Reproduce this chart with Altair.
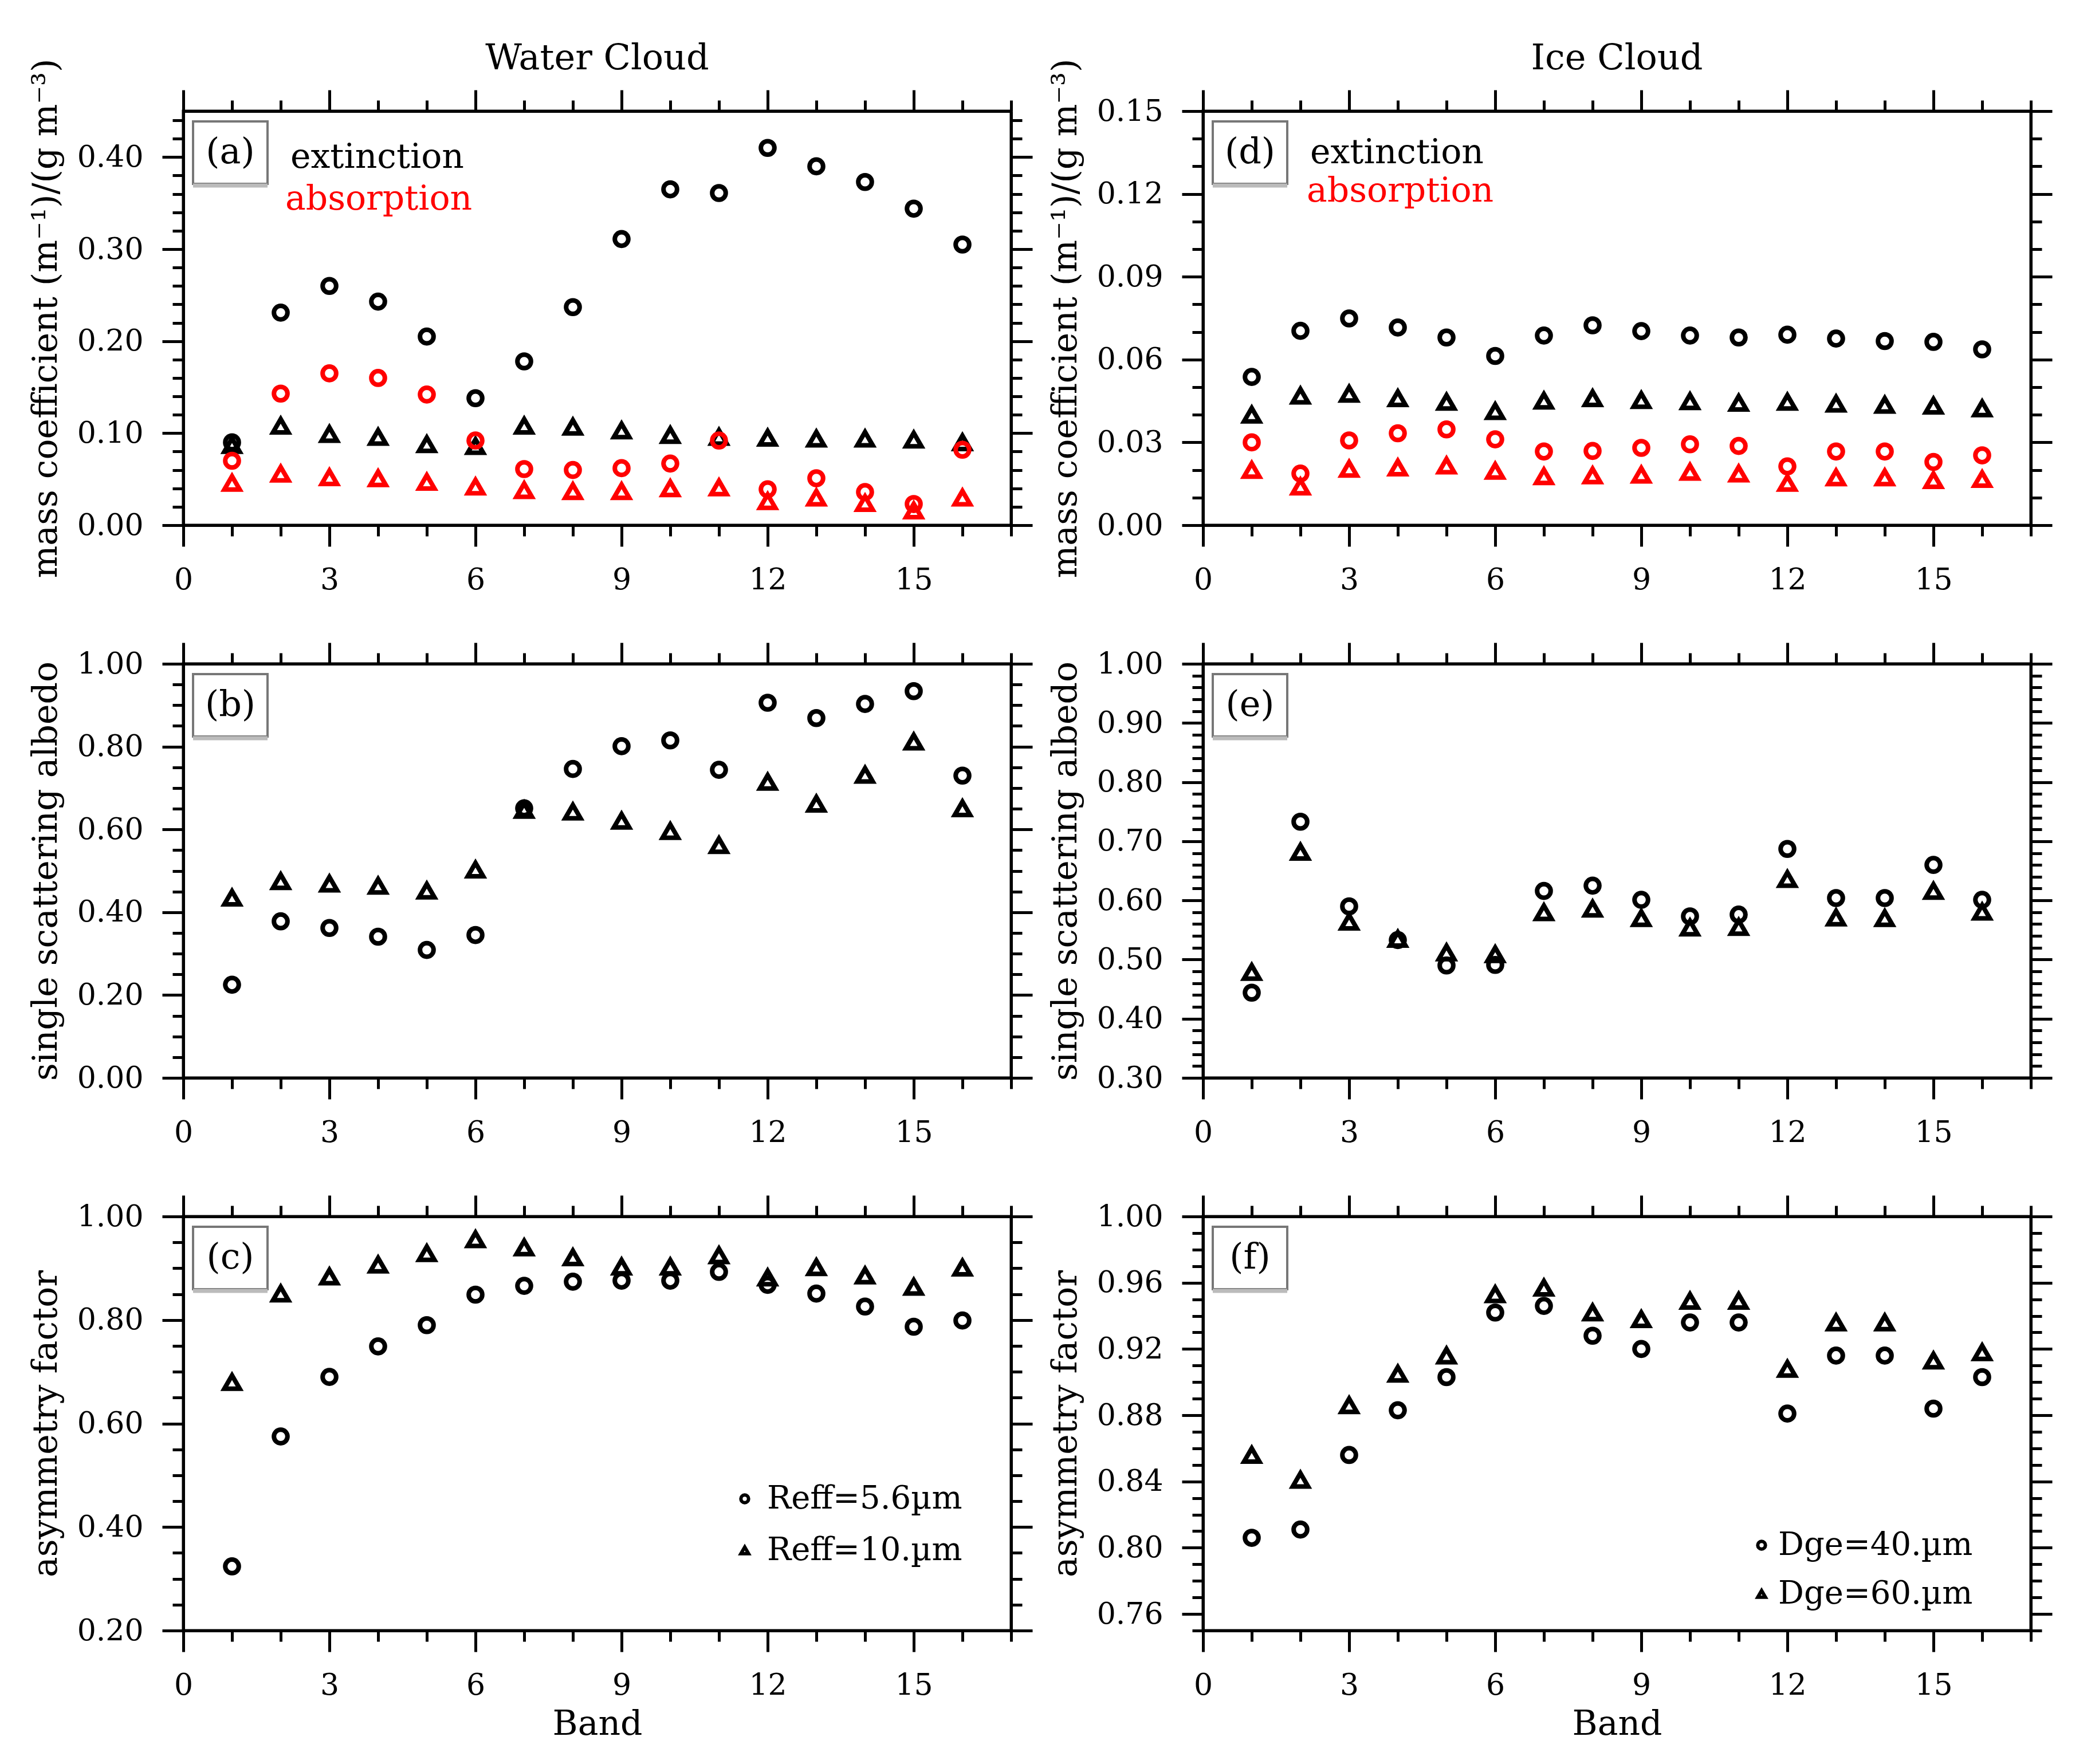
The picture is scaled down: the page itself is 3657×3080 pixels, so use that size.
import altair as alt
import pandas as pd

# ---------------- data ----------------
bands = list(range(1, 17))
x_ticks = list(range(0, 18))

water_sizes = ["Reff=5.6µm", "Reff=10.µm"]
ice_sizes = ["Dge=40.µm", "Dge=60.µm"]
kinds = ["extinction", "absorption"]

# (a) water cloud mass coefficients
wat_ext_r56 = [0.090, 0.231, 0.260, 0.243, 0.205, 0.138, 0.178, 0.237, 0.311, 0.365, 0.361, 0.410, 0.390, 0.373, 0.344, 0.305]
wat_ext_r10 = [0.087, 0.108, 0.099, 0.096, 0.088, 0.086, 0.108, 0.107, 0.103, 0.098, 0.096, 0.095, 0.094, 0.094, 0.093, 0.090]
wat_abs_r56 = [0.070, 0.143, 0.165, 0.160, 0.142, 0.092, 0.061, 0.060, 0.062, 0.067, 0.092, 0.039, 0.051, 0.036, 0.023, 0.082]
wat_abs_r10 = [0.046, 0.056, 0.052, 0.051, 0.047, 0.042, 0.038, 0.037, 0.037, 0.040, 0.041, 0.026, 0.030, 0.024, 0.016, 0.030]

# (d) ice cloud mass coefficients
ice_ext_d40 = [0.0537, 0.0704, 0.0749, 0.0716, 0.0680, 0.0613, 0.0687, 0.0724, 0.0703, 0.0687, 0.0680, 0.0690, 0.0676, 0.0667, 0.0664, 0.0637]
ice_ext_d60 = [0.0400, 0.0469, 0.0476, 0.0460, 0.0447, 0.0413, 0.0451, 0.0460, 0.0453, 0.0449, 0.0443, 0.0447, 0.0440, 0.0436, 0.0433, 0.0423]
ice_abs_d40 = [0.0300, 0.0187, 0.0307, 0.0333, 0.0347, 0.0311, 0.0267, 0.0269, 0.0280, 0.0293, 0.0287, 0.0213, 0.0267, 0.0267, 0.0229, 0.0253]
ice_abs_d60 = [0.0200, 0.0140, 0.0204, 0.0209, 0.0216, 0.0197, 0.0177, 0.0180, 0.0183, 0.0193, 0.0187, 0.0153, 0.0173, 0.0173, 0.0163, 0.0167]

# (b) water single scattering albedo
wat_ssa_r56 = [0.225, 0.378, 0.362, 0.341, 0.309, 0.345, 0.651, 0.746, 0.801, 0.815, 0.744, 0.906, 0.869, 0.903, 0.934, 0.730]
wat_ssa_r10 = [0.435, 0.475, 0.469, 0.464, 0.452, 0.503, 0.647, 0.643, 0.621, 0.596, 0.562, 0.715, 0.662, 0.732, 0.812, 0.651]

# (e) ice single scattering albedo
ice_ssa_d40 = [0.444, 0.733, 0.590, 0.533, 0.490, 0.491, 0.616, 0.625, 0.601, 0.573, 0.576, 0.687, 0.604, 0.604, 0.660, 0.601]
ice_ssa_d60 = [0.479, 0.682, 0.564, 0.535, 0.512, 0.509, 0.580, 0.586, 0.570, 0.554, 0.555, 0.636, 0.571, 0.570, 0.616, 0.581]

# (c) water asymmetry factor
wat_g_r56 = [0.324, 0.575, 0.690, 0.749, 0.790, 0.849, 0.866, 0.874, 0.876, 0.876, 0.893, 0.868, 0.851, 0.826, 0.787, 0.799]
wat_g_r10 = [0.680, 0.851, 0.884, 0.907, 0.929, 0.956, 0.940, 0.921, 0.903, 0.903, 0.925, 0.882, 0.902, 0.886, 0.864, 0.901]

# (f) ice asymmetry factor
ice_g_d40 = [0.806, 0.811, 0.856, 0.883, 0.903, 0.942, 0.946, 0.928, 0.920, 0.936, 0.936, 0.881, 0.916, 0.916, 0.884, 0.903]
ice_g_d60 = [0.856, 0.841, 0.886, 0.905, 0.916, 0.953, 0.957, 0.942, 0.938, 0.949, 0.949, 0.908, 0.936, 0.936, 0.913, 0.918]

# ---------------- helpers ----------------
SERIF = "DejaVu Serif"
XTEST = "datum.value % 3 === 0"
PW, PH = 1445, 723


def make_df(series):
    rows = []
    for vals, kind, size in series:
        for b, v in zip(bands, vals):
            rows.append({"band": b, "value": v, "kind": kind, "size": size})
    return pd.DataFrame(rows)


def tick_values(start, stop, step):
    n = int(round((stop - start) / step))
    return [round(start + i * step, 4) for i in range(n + 1)]


def make_axis(orient, values, test, fmt=None, title=None, labels=True, title_pad=23):
    kw = dict(
        orient=orient, values=values, tickSize=37, tickWidth=5, tickColor="black",
        tickDash={"condition": {"test": test, "value": [80, 1]}, "value": [19, 80]},
        domainWidth=5, domainColor="black", grid=False, labels=labels,
    )
    if labels:
        kw.update(labelExpr=f"({test}) ? {fmt} : ''", labelPadding=33, labelFlush=False,
                  labelOverlap=False, labelFont=SERIF, labelFontSize=52, labelColor="black")
    if title is not None:
        kw.update(title=title, titleFont=SERIF, titleFontSize=60, titleFontWeight="normal",
                  titlePadding=title_pad, titleColor="black")
    else:
        kw["title"] = None
    return alt.Axis(**kw)


def text_layer(txt, x, y, size, color="black", align="left", baseline="alphabetic"):
    return alt.Chart(pd.DataFrame({"t": [txt]})).mark_text(
        font=SERIF, fontSize=size, align=align, baseline=baseline, color=color
    ).encode(text="t:N", x=alt.value(x), y=alt.value(y))


def panel(df, ydom, yvals, ytest, ytitle, tag, shape_dom, colored=False, legend=None,
          title=None, xtitle=None, extra_texts=()):
    xscale = alt.Scale(domain=[0, 17], nice=False, zero=False)
    yscale = alt.Scale(domain=ydom, nice=False, zero=False)
    enc = dict(
        x=alt.X("band:Q", scale=xscale,
                axis=make_axis("bottom", x_ticks, XTEST, "datum.label", xtitle, True, 13)),
        y=alt.Y("value:Q", scale=yscale,
                axis=make_axis("left", yvals, ytest, "format(datum.value, '.2f')", ytitle, True, 23)),
        shape=alt.Shape("size:N", scale=alt.Scale(domain=shape_dom, range=["circle", "triangle-up"]),
                        legend=legend),
        size=alt.condition(f"datum.size == '{shape_dom[0]}'", alt.value(560), alt.value(720)),
    )
    if colored:
        enc["color"] = alt.Color("kind:N", scale=alt.Scale(domain=kinds, range=["#000000", "#ff0000"]),
                                 legend=None)
    pts = alt.Chart(df).mark_point(filled=False, strokeWidth=8, opacity=1,
                                   color="black").encode(**enc)
    ghost = alt.Chart(df).mark_point(opacity=0).encode(
        x=alt.X("band:Q", scale=xscale, axis=make_axis("top", x_ticks, XTEST, labels=False)),
        y=alt.Y("value:Q", scale=yscale, axis=make_axis("right", yvals, ytest, labels=False)),
    )
    one = pd.DataFrame({"t": [tag]})
    box = alt.Chart(one).mark_rect(fillOpacity=0, stroke="#777777", strokeWidth=4).encode(
        x=alt.value(17), x2=alt.value(147), y=alt.value(18), y2=alt.value(127))
    shadow = alt.Chart(one).mark_rule(color="#bbbbbb", strokeWidth=7).encode(
        x=alt.value(17), x2=alt.value(147), y=alt.value(130))
    layers = [pts, ghost, box, shadow, text_layer(tag, 82, 72, 62, align="center", baseline="middle")]
    for txt, x, y, col in extra_texts:
        layers.append(text_layer(txt, x, y, 60, color=col))
    if title is not None:
        layers.append(text_layer(title, PW / 2, -73, 62, align="center"))
    return alt.layer(*layers).properties(width=PW, height=PH)


def legend_at(x, y, offset, rowpad):
    return alt.Legend(orient="none", legendX=x, legendY=y, title=None, labelFont=SERIF,
                      labelFontSize=56, labelColor="black", labelLimit=1000, labelOffset=offset,
                      symbolSize=180, symbolStrokeWidth=6, symbolStrokeColor="black",
                      rowPadding=rowpad)


MASS = "mass coefficient (m⁻¹)/(g m⁻³)"

df_a = make_df([(wat_ext_r56, "extinction", water_sizes[0]), (wat_ext_r10, "extinction", water_sizes[1]),
                (wat_abs_r56, "absorption", water_sizes[0]), (wat_abs_r10, "absorption", water_sizes[1])])
df_d = make_df([(ice_ext_d40, "extinction", ice_sizes[0]), (ice_ext_d60, "extinction", ice_sizes[1]),
                (ice_abs_d40, "absorption", ice_sizes[0]), (ice_abs_d60, "absorption", ice_sizes[1])])
df_b = make_df([(wat_ssa_r56, "extinction", water_sizes[0]), (wat_ssa_r10, "extinction", water_sizes[1])])
df_e = make_df([(ice_ssa_d40, "extinction", ice_sizes[0]), (ice_ssa_d60, "extinction", ice_sizes[1])])
df_c = make_df([(wat_g_r56, "extinction", water_sizes[0]), (wat_g_r10, "extinction", water_sizes[1])])
df_f = make_df([(ice_g_d40, "extinction", ice_sizes[0]), (ice_g_d60, "extinction", ice_sizes[1])])

pa = panel(df_a, [0, 0.45], tick_values(0, 0.44, 0.02),
           "abs(datum.value*10 - round(datum.value*10)) < 1e-6", MASS, "(a)", water_sizes,
           colored=True, title="Water Cloud",
           extra_texts=[("extinction", 187, 99, "black"), ("absorption", 178, 172, "#ff0000")])
pd_ = panel(df_d, [0, 0.15], tick_values(0, 0.15, 0.01),
            "abs(datum.value/0.03 - round(datum.value/0.03)) < 1e-6", MASS, "(d)", ice_sizes,
            colored=True, title="Ice Cloud",
            extra_texts=[("extinction", 187, 91, "black"), ("absorption", 181, 158, "#ff0000")])
pb = panel(df_b, [0, 1.0], tick_values(0, 1.0, 0.05),
           "abs(datum.value*5 - round(datum.value*5)) < 1e-6", "single scattering albedo", "(b)",
           water_sizes)
pe = panel(df_e, [0.3, 1.0], tick_values(0.3, 1.0, 0.02),
           "abs(datum.value*10 - round(datum.value*10)) < 1e-6", "single scattering albedo", "(e)",
           ice_sizes)
pc = panel(df_c, [0.2, 1.0], tick_values(0.2, 1.0, 0.05),
           "abs(datum.value*5 - round(datum.value*5)) < 1e-6", "asymmetry factor", "(c)",
           water_sizes, legend=legend_at(952, 465, 11, 34), xtitle="Band")
pf = panel(df_f, [0.75, 1.0], tick_values(0.75, 1.0, 0.01),
           "abs((datum.value-0.76)/0.04 - round((datum.value-0.76)/0.04)) < 1e-6", "asymmetry factor",
           "(f)", ice_sizes, legend=legend_at(947, 546, 1, 29), xtitle="Band")

chart = alt.concat(
    pa, pd_, pb, pe, pc, pf, columns=2, spacing={"row": 242, "column": 335}, bounds="flush"
).resolve_scale(
    shape="independent", color="independent"
).properties(
    padding={"left": 39, "top": 60, "right": 20, "bottom": 20}
).configure_view(stroke="black", strokeWidth=5)

chart.save("out.html", embed_options={"renderer": "svg", "actions": False})
